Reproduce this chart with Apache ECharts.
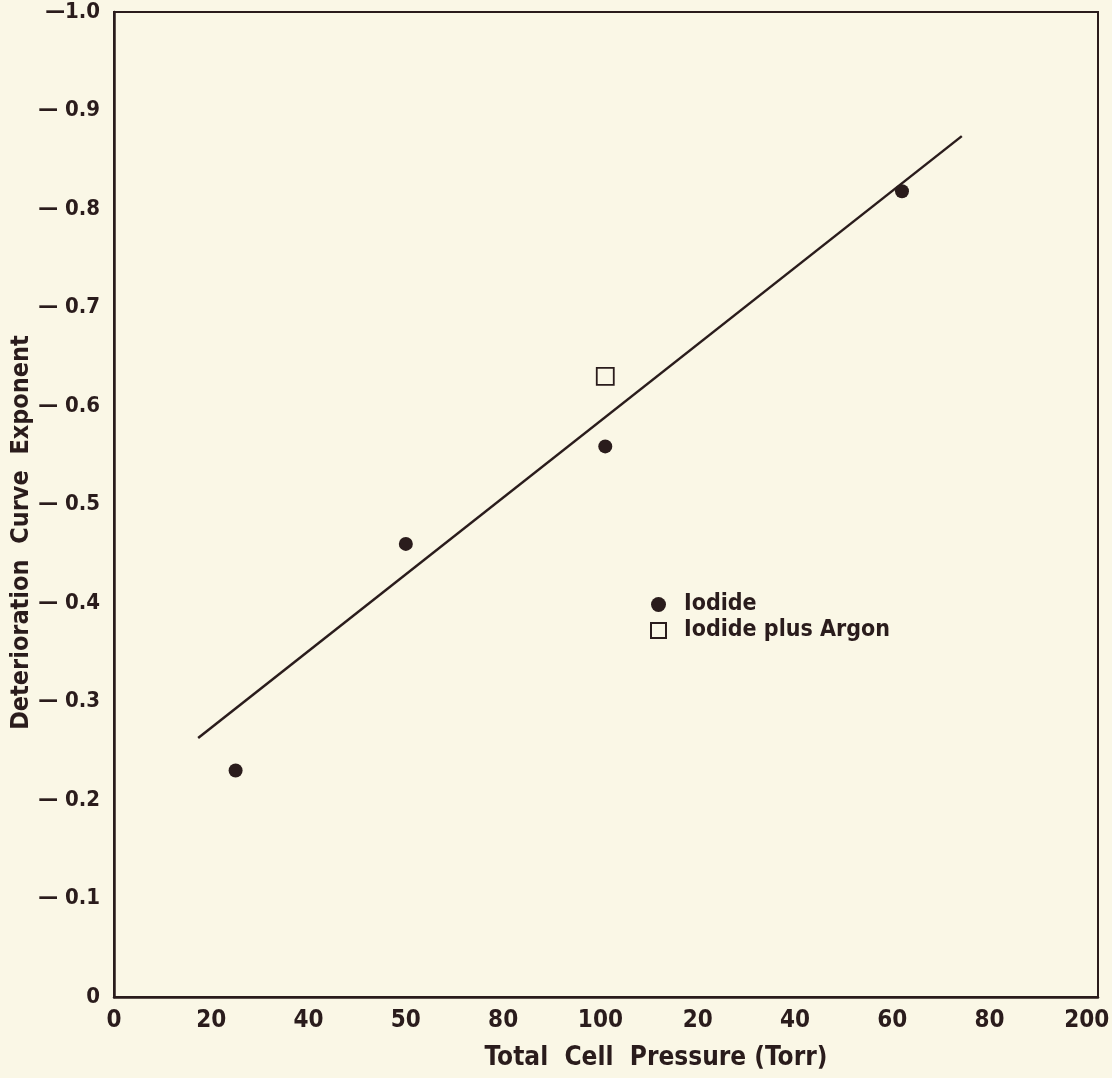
<!DOCTYPE html>
<html>
<head>
<meta charset="utf-8">
<script src="https://cdn.jsdelivr.net/npm/echarts@6/dist/echarts.min.js"></script>
<style>
html,body{margin:0;padding:0;background:#FAF7E6;}
#c{width:1112px;height:1078px;}
</style>
</head>
<body>
<div id="c"></div>
<script>
// ---- data ----
const xTickLabels = ['0','20','40','50','80','100','20','40','60','80','200'];
const yTickLabels = ['0','\u2014 0.1','\u2014 0.2','\u2014 0.3','\u2014 0.4','\u2014 0.5','\u2014 0.6','\u2014 0.7','\u2014 0.8','\u2014 0.9','\u20141.0'];
const iodideX = [25, 60, 101, 162];
const iodideY = [-0.230, -0.460, -0.559, -0.818];
const argonX = [101];
const argonY = [-0.630];
const fitX = [17.3, 174.3];
const fitY = [-0.263, -0.874];
const xTitle = 'Total  Cell  Pressure (Torr)';
const yTitle = 'Deterioration  Curve  Exponent';

const INK = '#2a1c1c';
const BG = '#FAF7E6';
const FONT = "'Liberation Sans Narrow','DejaVu Sans Condensed','Roboto Condensed','Open Sans',sans-serif";

const zip = (xs, ys) => xs.map((x, i) => [x, ys[i]]);

const chart = echarts.init(document.getElementById('c'), null, {renderer: 'canvas'});
chart.setOption({
  backgroundColor: BG,
  animation: false,
  grid: {left: 114, right: 14, top: 12, bottom: 81, containLabel: false, outerBoundsMode: 'none',
         show: true, borderColor: INK, borderWidth: 2, backgroundColor: 'transparent'},
  xAxis: {
    type: 'value', min: 0, max: 202.3, interval: 20,
    axisLine: {show: true, lineStyle: {color: INK, width: 2.5}},
    axisTick: {show: false},
    splitLine: {show: false},
    axisLabel: {
      color: INK, fontFamily: FONT, fontWeight: 'bold', fontSize: 24, margin: 12,
      showMaxLabel: false,
      formatter: v => (Math.abs(v / 20 - Math.round(v / 20)) < 1e-6 ? xTickLabels[Math.round(v / 20)] : '')
    },
    name: xTitle, nameLocation: 'middle', nameGap: 48, nameMoveOverlap: false,
    nameTextStyle: {color: INK, fontFamily: FONT, fontWeight: 'bold', fontSize: 26, padding: [0, 0, 0, 100]}
  },
  yAxis: {
    type: 'value', min: -1, max: 0, interval: 0.1, inverse: true,
    axisLine: {show: true, lineStyle: {color: INK, width: 2.5}},
    axisTick: {show: false},
    splitLine: {show: false},
    axisLabel: {
      color: INK, fontFamily: FONT, fontWeight: 'bold', fontSize: 22, margin: 14, padding: [8, 0, 0, 0],
      formatter: v => yTickLabels[Math.round(-v * 10)]
    },
    name: yTitle, nameLocation: 'middle', nameGap: 80, nameRotate: 90, nameMoveOverlap: false,
    nameTextStyle: {color: INK, fontFamily: FONT, fontWeight: 'bold', fontSize: 25, padding: [0, 56, 0, 0]}
  },
  legend: {
    data: ['Iodide', 'Iodide plus Argon'],
    orient: 'vertical', left: 645, top: 588,
    itemWidth: 15, itemHeight: 15, itemGap: 3,
    textStyle: {color: INK, fontFamily: FONT, fontWeight: 'bold', fontSize: 23, padding: [0, 0, 0, 13]}
  },
  series: [
    {
      type: 'line', name: 'fit', data: zip(fitX, fitY), showSymbol: false, symbol: 'none',
      lineStyle: {color: INK, width: 2.5}, silent: true
    },
    {
      type: 'scatter', name: 'Iodide', data: zip(iodideX, iodideY), symbol: 'circle', symbolSize: 14,
      itemStyle: {color: INK, opacity: 1}
    },
    {
      type: 'scatter', name: 'Iodide plus Argon', data: zip(argonX, argonY), symbol: 'rect', symbolSize: 17,
      itemStyle: {color: BG, borderColor: INK, borderWidth: 1.8, opacity: 1}
    }
  ]
});
</script>
</body>
</html>
